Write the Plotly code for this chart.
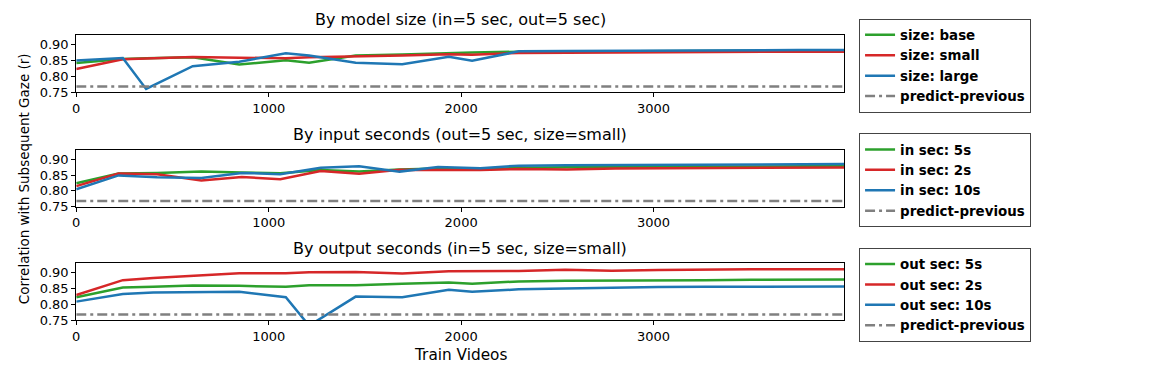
import plotly.graph_objects as go

# panel 1: by model size
size_x = [0, 242, 363, 605, 847, 1089, 1210, 1452, 1694, 1936, 2057, 2299, 2541, 2783, 3025, 3267, 3509, 3751, 3990]
size_base = [0.842, 0.855, 0.857, 0.860, 0.837, 0.851, 0.843, 0.866, 0.869, 0.874, 0.875, 0.878, 0.879, 0.879, 0.880, 0.880, 0.881, 0.881, 0.881]
size_small = [0.823, 0.854, 0.856, 0.861, 0.859, 0.857, 0.860, 0.862, 0.866, 0.870, 0.868, 0.874, 0.875, 0.876, 0.876, 0.877, 0.877, 0.878, 0.878]
size_large = [0.850, 0.858, 0.760, 0.832, 0.846, 0.873, 0.866, 0.843, 0.838, 0.862, 0.849, 0.879, 0.880, 0.881, 0.881, 0.882, 0.882, 0.883, 0.883]

# panel 2: by input seconds
in_x = [0, 220, 420, 650, 860, 1060, 1270, 1470, 1680, 1880, 2100, 2300, 2550, 2800, 3050, 3300, 3550, 3800, 3990]
in_5s = [0.824, 0.855, 0.857, 0.861, 0.858, 0.856, 0.866, 0.861, 0.868, 0.871, 0.868, 0.873, 0.875, 0.876, 0.876, 0.877, 0.877, 0.878, 0.878]
in_2s = [0.815, 0.855, 0.853, 0.833, 0.844, 0.837, 0.863, 0.854, 0.867, 0.866, 0.866, 0.869, 0.868, 0.871, 0.872, 0.873, 0.874, 0.874, 0.874]
in_10s = [0.805, 0.849, 0.843, 0.841, 0.857, 0.853, 0.873, 0.878, 0.861, 0.876, 0.872, 0.880, 0.881, 0.882, 0.882, 0.883, 0.884, 0.885, 0.885]

# panel 3: by output seconds
out_x = [0, 242, 400, 605, 847, 1089, 1210, 1452, 1694, 1936, 2057, 2299, 2541, 2783, 3025, 3267, 3509, 3751, 3990]
out_5s = [0.823, 0.854, 0.856, 0.860, 0.859, 0.856, 0.861, 0.861, 0.866, 0.870, 0.866, 0.873, 0.875, 0.875, 0.876, 0.877, 0.878, 0.879, 0.879]
out_2s = [0.830, 0.877, 0.884, 0.891, 0.899, 0.899, 0.902, 0.903, 0.898, 0.905, 0.905, 0.906, 0.910, 0.907, 0.909, 0.911, 0.912, 0.912, 0.912]
out_10s = [0.809, 0.833, 0.838, 0.838, 0.840, 0.823, 0.733, 0.825, 0.823, 0.847, 0.840, 0.848, 0.851, 0.853, 0.855, 0.856, 0.856, 0.857, 0.857]

prev_x = [0, 3990]
prev_val = 0.768

titles = ["By model size (in=5 sec, out=5 sec)",
          "By input seconds (out=5 sec, size=small)",
          "By output seconds (in=5 sec, size=small)"]

GREEN, RED, BLUE, GRAY = "#2ca02c", "#d62728", "#1f77b4", "#808080"
FONT = "DejaVu Sans"

panels = [
    (size_x, [("size: base", size_base, GREEN), ("size: small", size_small, RED), ("size: large", size_large, BLUE)]),
    (in_x, [("in sec: 5s", in_5s, GREEN), ("in sec: 2s", in_2s, RED), ("in sec: 10s", in_10s, BLUE)]),
    (out_x, [("out sec: 5s", out_5s, GREEN), ("out sec: 2s", out_2s, RED), ("out sec: 10s", out_10s, BLUE)]),
]

W, H = 1164, 388
x_dom = [72.5 / W, 843 / W]
tops = [36, 153, 269]
ph = 58
legend_tops = [19, 136, 253]

fig = go.Figure()
layout = {}
for i, (xs, series) in enumerate(panels):
    n = "" if i == 0 else str(i + 1)
    lg = "legend" + n
    for name, vals, col in series:
        fig.add_trace(go.Scatter(x=xs, y=vals, name=name, mode="lines",
                                 line=dict(color=col, width=2.5),
                                 xaxis="x" + n, yaxis="y" + n, legend=lg))
    fig.add_trace(go.Scatter(x=prev_x, y=[prev_val] * len(prev_x), name="predict-previous",
                             mode="lines", line=dict(color=GRAY, width=2.5, dash="10px,4px,3px,4px"),
                             xaxis="x" + n, yaxis="y" + n, legend=lg))
    top = tops[i]
    layout["xaxis" + n] = dict(domain=x_dom, anchor="y" + n, range=[0, 3990],
                               tickvals=[0, 1000, 2000, 3000], ticks="outside", ticklen=4,
                               tickcolor="black", showline=True, linecolor="black", linewidth=1,
                               mirror=True, showgrid=False, zeroline=False,
                               tickfont=dict(family=FONT, size=13, color="black"))
    layout["yaxis" + n] = dict(domain=[1 - (top + ph) / H, 1 - top / H], anchor="x" + n,
                               range=[0.75, 0.93], tickvals=[0.75, 0.80, 0.85, 0.90],
                               tickformat=".2f", ticks="outside", ticklen=4, tickcolor="black",
                               showline=True, linecolor="black", linewidth=1, mirror=True,
                               showgrid=False, zeroline=False,
                               tickfont=dict(family=FONT, size=13, color="black"))
    layout[lg] = dict(x=858 / W, y=1 - legend_tops[i] / H, xanchor="left", yanchor="top",
                      bgcolor="white", bordercolor="#444", borderwidth=1,
                      font=dict(family=FONT, size=13.4, color="black", weight="bold"))

annotations = []
for i, t in enumerate(titles):
    annotations.append(dict(text=t, x=(x_dom[0] + x_dom[1]) / 2, y=1 - (tops[i] - 4) / H,
                            xref="paper", yref="paper", xanchor="center", yanchor="bottom",
                            showarrow=False, font=dict(family=FONT, size=16, color="black")))
annotations.append(dict(text="Train Videos", x=(x_dom[0] + x_dom[1]) / 2, y=1 - 362 / H,
                        xref="paper", yref="paper", xanchor="center", yanchor="middle",
                        showarrow=False, font=dict(family=FONT, size=15.3, color="black")))
annotations.append(dict(text="Correlation with Subsequent Gaze (r)", x=20 / W, y=1 - 182 / H,
                        xref="paper", yref="paper", xanchor="center", yanchor="middle",
                        textangle=-90, showarrow=False,
                        font=dict(family=FONT, size=13.5, color="black")))

fig.update_layout(width=W, height=H, margin=dict(l=0, r=0, t=0, b=0),
                  plot_bgcolor="white", paper_bgcolor="white",
                  annotations=annotations, **layout)

fig.write_html("out.html", config={"displayModeBar": False},
               post_script="document.body.style.margin = '0';")
